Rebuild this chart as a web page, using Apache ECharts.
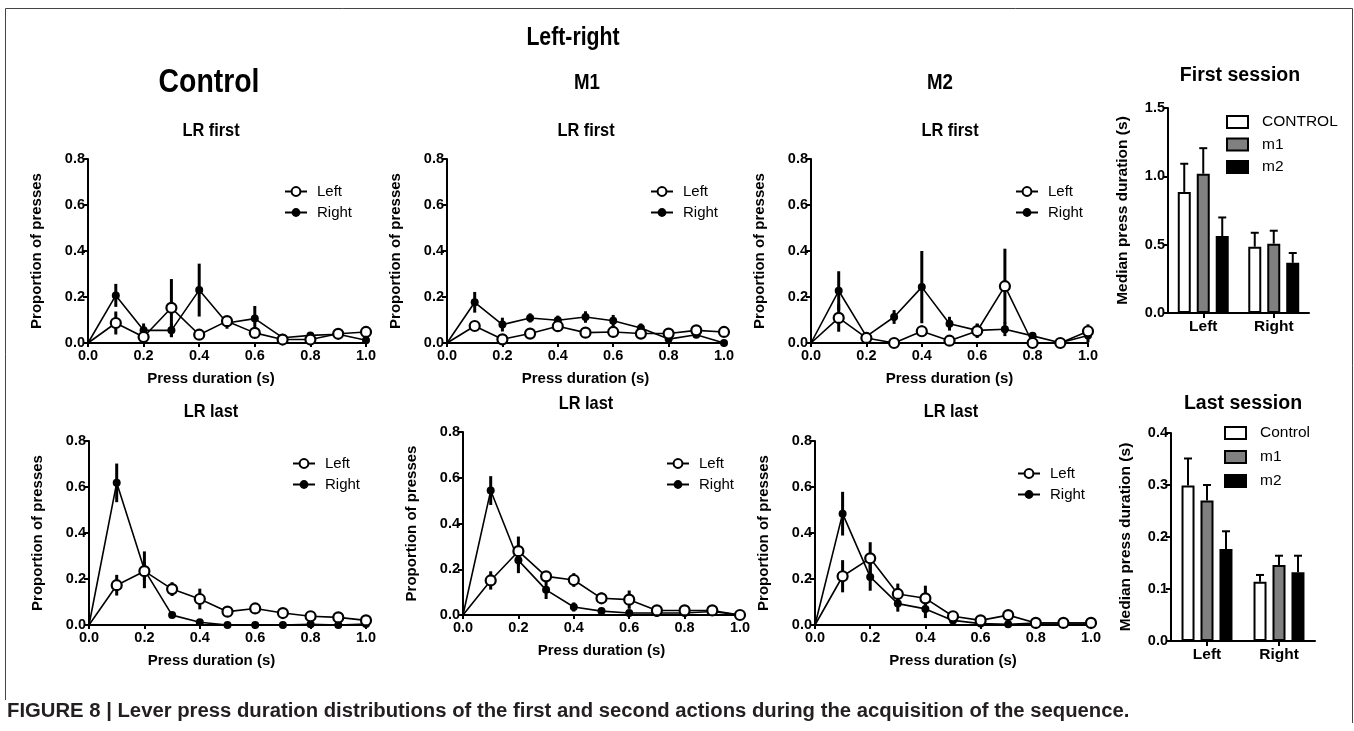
<!DOCTYPE html>
<html>
<head>
<meta charset="utf-8">
<script src="https://cdn.jsdelivr.net/npm/echarts@6/dist/echarts.min.js"></script>
<style>
html, body { margin: 0; padding: 0; background: #fff; }
#main { width: 1354px; height: 731px; }
</style>
</head>
<body>
<div id="main"></div>
<script>
// press duration bins (s)
var durations = [0, 0.1, 0.2, 0.3, 0.4, 0.5, 0.6, 0.7, 0.8, 0.9, 1.0];

// proportion of presses, first session (mean and sem)
var ctrlFirstLeft     = [0, 0.087, 0.026, 0.153, 0.036, 0.095, 0.044, 0.015, 0.015, 0.040, 0.048];
var ctrlFirstLeftErr  = [0, 0.050, 0.015, 0.125, 0.010, 0.020, 0.015, 0.010, 0.010, 0.010, 0.010];
var ctrlFirstRight    = [0, 0.207, 0.055, 0.055, 0.230, 0.087, 0.106, 0.023, 0.033, 0.038, 0.012];
var ctrlFirstRightErr = [0, 0.050, 0.030, 0.030, 0.115, 0.025, 0.055, 0.010, 0.010, 0.010, 0.010];

var m1FirstLeft     = [0, 0.074, 0.016, 0.041, 0.073, 0.045, 0.048, 0.041, 0.041, 0.055, 0.048];
var m1FirstLeftErr  = [0, 0.020, 0.010, 0.010, 0.020, 0.010, 0.010, 0.010, 0.010, 0.010, 0.020];
var m1FirstRight    = [0, 0.177, 0.080, 0.109, 0.099, 0.113, 0.097, 0.065, 0.017, 0.036, 0];
var m1FirstRightErr = [0, 0.045, 0.030, 0.020, 0.020, 0.025, 0.025, 0.020, 0.010, 0.010, 0];

var m2FirstLeft     = [0, 0.109, 0.022, 0, 0.051, 0.010, 0.052, 0.247, 0, 0, 0.051];
var m2FirstLeftErr  = [0, 0.060, 0.010, 0, 0.025, 0.005, 0.030, 0.163, 0, 0, 0.030];
var m2FirstRight    = [0, 0.227, 0.029, 0.113, 0.243, 0.084, 0.055, 0.060, 0.031, 0.001, 0.033];
var m2FirstRightErr = [0, 0.085, 0.015, 0.030, 0.157, 0.030, 0.030, 0.030, 0.015, 0.005, 0.030];

// proportion of presses, last session
var ctrlLastLeft     = [0, 0.173, 0.234, 0.156, 0.113, 0.058, 0.072, 0.052, 0.038, 0.033, 0.020];
var ctrlLastLeftErr  = [0, 0.045, 0.040, 0.030, 0.045, 0.010, 0.020, 0.010, 0.010, 0.010, 0.005];
var ctrlLastRight    = [0, 0.618, 0.240, 0.043, 0.012, 0, 0, 0, 0.003, 0, 0.004];
var ctrlLastRightErr = [0, 0.084, 0.080, 0.005, 0.005, 0, 0, 0, 0.002, 0, 0.002];

var m1LastLeft     = [0, 0.151, 0.279, 0.169, 0.153, 0.073, 0.067, 0.020, 0.020, 0.020, 0];
var m1LastLeftErr  = [0, 0.040, 0.064, 0.020, 0.030, 0.025, 0.040, 0.005, 0.005, 0.005, 0];
var m1LastRight    = [0, 0.544, 0.239, 0.110, 0.035, 0.017, 0.009, 0.009, 0.009, 0.015, 0];
var m1LastRightErr = [0, 0.063, 0.056, 0.040, 0.020, 0.005, 0.005, 0.002, 0.002, 0.005, 0];

var m2LastLeft     = [0, 0.212, 0.290, 0.135, 0.116, 0.038, 0.020, 0.043, 0.009, 0.009, 0.009];
var m2LastLeftErr  = [0, 0.070, 0.070, 0.045, 0.055, 0.010, 0.010, 0.020, 0.002, 0.002, 0.002];
var m2LastRight    = [0, 0.484, 0.209, 0.093, 0.070, 0.020, 0.006, 0.003, 0.009, 0.009, 0.009];
var m2LastRightErr = [0, 0.095, 0.060, 0.035, 0.040, 0.010, 0.005, 0.002, 0.002, 0.002, 0.002];

// median press duration (s), bar panels
var levers = ['Left', 'Right'];
var firstControl = [0.886, 0.485], firstControlErr = [0.206, 0.102];
var firstM1      = [1.019, 0.507], firstM1Err      = [0.187, 0.095];
var firstM2      = [0.563, 0.367], firstM2Err      = [0.136, 0.072];
var lastControl  = [0.299, 0.114], lastControlErr  = [0.052, 0.013];
var lastM1       = [0.270, 0.146], lastM1Err       = [0.030, 0.018];
var lastM2       = [0.177, 0.132], lastM2Err       = [0.034, 0.032];

var FONT = '"Liberation Sans", Arial, sans-serif';

var chartDom = document.getElementById('main');
var myChart = echarts.init(chartDom, null, { renderer: 'canvas' });

var grids = [], xAxes = [], yAxes = [], series = [], legends = [], graphics = [];

function axisLine() { return { show: true, lineStyle: { color: '#000', width: 2 } }; }
function fixed1(v) { return v.toFixed(1); }

function errSeries(idx, vals, errs) {
  return {
    type: 'custom', xAxisIndex: idx, yAxisIndex: idx, z: 2, silent: true,
    encode: { x: 0, y: 1 },
    data: durations.map(function (d, k) { return [d, vals[k], errs[k]]; }),
    renderItem: function (params, api) {
      var e = api.value(2);
      if (!e) return null;
      var x = api.value(0), y = api.value(1);
      var p1 = api.coord([x, y + e]);
      var p2 = api.coord([x, Math.max(0, y - e)]);
      return { type: 'line', shape: { x1: p1[0], y1: p1[1], x2: p2[0], y2: p2[1] },
               style: { stroke: '#000', lineWidth: 3 } };
    }
  };
}

function linePanel(box, left, leftErr, right, rightErr, leg, namePad) {
  var idx = grids.length;
  grids.push({ left: box[0], top: box[1], width: box[2], height: box[3] });
  xAxes.push({
    gridIndex: idx, type: 'value', min: 0, max: 1, interval: 0.2,
    name: 'Press duration (s)', nameLocation: 'middle', nameGap: 28,
    nameTextStyle: { fontFamily: FONT, fontWeight: 'bold', fontSize: 15, color: '#000', padding: [0, namePad || 0, 0, 0] },
    axisLine: axisLine(), axisTick: { show: true, length: 4, lineStyle: { color: '#000', width: 2 } },
    axisLabel: { formatter: fixed1, fontFamily: FONT, fontWeight: 'bold', fontSize: 14.5, color: '#000', margin: 5 },
    splitLine: { show: false }
  });
  yAxes.push({
    gridIndex: idx, type: 'value', min: 0, max: 0.8, interval: 0.2,
    name: 'Proportion of presses', nameLocation: 'middle', nameGap: 44,
    nameTextStyle: { fontFamily: FONT, fontWeight: 'bold', fontSize: 15, color: '#000' },
    axisLine: axisLine(), axisTick: { show: true, length: 5, lineStyle: { color: '#000', width: 2 } },
    axisLabel: { formatter: fixed1, fontFamily: FONT, fontWeight: 'bold', fontSize: 14.5, color: '#000', margin: 3 },
    splitLine: { show: false }
  });
  series.push(errSeries(idx, left, leftErr));
  series.push(errSeries(idx, right, rightErr));
  series.push({
    type: 'line', name: 'Right', xAxisIndex: idx, yAxisIndex: idx, z: 3,
    data: durations.map(function (d, k) { return { value: [d, right[k]], symbol: k === 0 ? 'none' : 'circle' }; }),
    symbol: 'circle', symbolSize: 8, lineStyle: { color: '#000', width: 1.6 },
    itemStyle: { color: '#000', borderWidth: 0 }
  });
  series.push({
    type: 'line', name: 'Left', xAxisIndex: idx, yAxisIndex: idx, z: 4,
    data: durations.map(function (d, k) { return { value: [d, left[k]], symbol: k === 0 ? 'none' : 'circle' }; }),
    symbol: 'circle', symbolSize: 10, lineStyle: { color: '#000', width: 1.6 },
    itemStyle: { color: '#fff', borderColor: '#000', borderWidth: 2.2 }
  });
  legends.push({
    data: ['Left', 'Right'], orient: 'vertical', left: leg[0], top: leg[1], padding: 0,
    itemWidth: 22, itemHeight: 11, itemGap: 6, selectedMode: false,
    textStyle: { fontFamily: FONT, fontSize: 15, color: '#000', padding: [0, 0, 0, 5] }
  });
}

function barErr(idx, vals, errs, offset) {
  return {
    type: 'custom', xAxisIndex: idx, yAxisIndex: idx, z: 1, silent: true,
    encode: { x: 0, y: 1 },
    data: levers.map(function (c, k) { return [k, vals[k], errs[k]]; }),
    renderItem: function (params, api) {
      var base = api.coord([api.value(0), api.value(1)]);
      var top = api.coord([api.value(0), api.value(1) + api.value(2)]);
      var x = base[0] + offset;
      return { type: 'group', children: [
        { type: 'line', shape: { x1: x, y1: base[1], x2: x, y2: top[1] }, style: { stroke: '#000', lineWidth: 2 } },
        { type: 'line', shape: { x1: x - 4, y1: top[1], x2: x + 4, y2: top[1] }, style: { stroke: '#000', lineWidth: 2 } }
      ] };
    }
  };
}

function barPanel(box, max, interval, names, sets, leg, legGap) {
  var idx = grids.length;
  grids.push({ left: box[0], top: box[1], width: box[2], height: box[3] });
  xAxes.push({
    gridIndex: idx, type: 'category', data: levers,
    axisLine: axisLine(), axisTick: { show: true, alignWithLabel: true, length: 5, lineStyle: { color: '#000', width: 2 } },
    axisLabel: { fontFamily: FONT, fontWeight: 'bold', fontSize: 15.5, color: '#000', margin: 6 }
  });
  yAxes.push({
    gridIndex: idx, type: 'value', min: 0, max: max, interval: interval,
    name: 'Median press duration (s)', nameLocation: 'middle', nameGap: 37,
    nameTextStyle: { fontFamily: FONT, fontWeight: 'bold', fontSize: 15.5, color: '#000' },
    axisLine: axisLine(), axisTick: { show: true, length: 5, lineStyle: { color: '#000', width: 2 } },
    axisLabel: { formatter: fixed1, fontFamily: FONT, fontWeight: 'bold', fontSize: 14.5, color: '#000', margin: 3 },
    splitLine: { show: false }
  });
  var fills = ['#fff', '#808080', '#000'];
  var offsets = [-19, 0, 19];
  sets.forEach(function (s, i) {
    series.push({
      type: 'bar', name: names[i], xAxisIndex: idx, yAxisIndex: idx, z: 2,
      data: s[0], barWidth: 13, barGap: '46%',
      itemStyle: { color: fills[i], borderColor: '#000', borderWidth: 2 }
    });
    series.push(barErr(idx, s[0], s[1], offsets[i]));
  });
  legends.push({
    data: names, orient: 'vertical', left: leg[0], top: leg[1], padding: 0,
    icon: 'rect', itemWidth: 21, itemHeight: 12, itemGap: legGap, selectedMode: false,
    textStyle: { fontFamily: FONT, fontSize: 15.5, color: '#000', padding: [0, 0, 0, 9] }
  });
}

linePanel([88, 159, 278, 184], ctrlFirstLeft, ctrlFirstLeftErr, ctrlFirstRight, ctrlFirstRightErr, [284, 184], 32);
linePanel([447, 159, 277, 184], m1FirstLeft, m1FirstLeftErr, m1FirstRight, m1FirstRightErr, [650, 184]);
linePanel([811, 159, 277, 184], m2FirstLeft, m2FirstLeftErr, m2FirstRight, m2FirstRightErr, [1015, 184]);
linePanel([89, 441, 277, 184], ctrlLastLeft, ctrlLastLeftErr, ctrlLastRight, ctrlLastRightErr, [292, 456], 32);
linePanel([463, 432, 277, 183], m1LastLeft, m1LastLeftErr, m1LastRight, m1LastRightErr, [666, 456]);
linePanel([815, 441, 276, 184], m2LastLeft, m2LastLeftErr, m2LastRight, m2LastRightErr, [1017, 466]);

barPanel([1168, 108, 141, 205], 1.5, 0.5, ['CONTROL', 'm1', 'm2'],
  [[firstControl, firstControlErr], [firstM1, firstM1Err], [firstM2, firstM2Err]], [1226, 114], 6.5);
barPanel([1171, 433, 144, 208], 0.4, 0.1, ['Control', 'm1', 'm2'],
  [[lastControl, lastControlErr], [lastM1, lastM1Err], [lastM2, lastM2Err]], [1224, 425], 8);

// condensed bold headings
function label(text, x, y, size, sx) {
  graphics.push({ type: 'text', x: x, y: y, scaleX: sx, silent: true,
    style: { text: text, fontFamily: FONT, fontWeight: 'bold', fontSize: size, fill: '#000',
             textAlign: 'center', textVerticalAlign: 'middle' } });
}
label('Left-right', 573, 38, 25, 0.85);
label('Control', 209, 83, 33, 0.86);
label('M1', 587, 83, 22, 0.85);
label('M2', 940, 83, 22, 0.85);
label('LR first', 211, 131, 19, 0.86);
label('LR first', 586, 131, 19, 0.86);
label('LR first', 950, 131, 19, 0.86);
label('LR last', 211, 412, 19, 0.86);
label('LR last', 586, 404, 19, 0.86);
label('LR last', 951, 412, 19, 0.86);
label('First session', 1240, 76, 19.5, 1);
label('Last session', 1243, 404, 19.5, 1);

// figure frame and caption
graphics.push({ type: 'polyline', silent: true,
  shape: { points: [[5.5, 700], [5.5, 8.5], [1352.5, 8.5], [1352.5, 723]] },
  style: { stroke: '#444', lineWidth: 1, fill: null } });
graphics.push({ type: 'text', x: 7, y: 711, silent: true,
  style: { text: 'FIGURE 8 | Lever press duration distributions of the first and second actions during the acquisition of the sequence.',
           fontFamily: FONT, fontWeight: 'bold', fontSize: 20.3, fill: '#231f20', textVerticalAlign: 'middle' } });

var option = {
  animation: false,
  grid: grids,
  xAxis: xAxes,
  yAxis: yAxes,
  legend: legends,
  series: series,
  graphic: graphics
};
myChart.setOption(option);
window.addEventListener('resize', function () { myChart.resize(); });
</script>
</body>
</html>
